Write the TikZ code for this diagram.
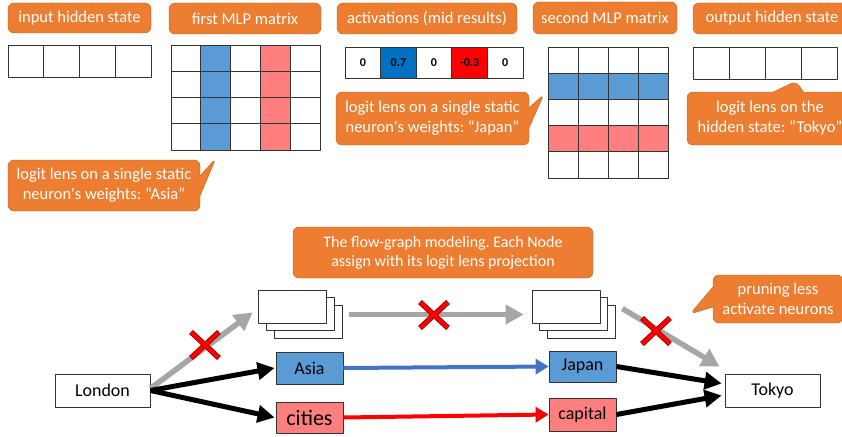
\documentclass[tikz,border=0pt]{standalone}
\usepackage{fontspec}
\setmainfont{Carlito}
\usetikzlibrary{arrows.meta,shapes.callouts,calc}
\frenchspacing

\definecolor{notebg}{HTML}{ED7D31}
\definecolor{noteline}{HTML}{B65F22}
\definecolor{lensblue}{HTML}{5B9BD5}
\definecolor{lensred}{HTML}{FF7F7F}
\definecolor{actblue}{HTML}{0070C0}
\definecolor{actred}{HTML}{FF0000}
\definecolor{flowblue}{HTML}{4472C4}
\definecolor{prunegray}{HTML}{A6A6A6}

\begin{document}
\begin{tikzpicture}[x=1pt,y=-1pt,line join=round]
	\tikzset{
		title box/.style={draw=noteline,fill=notebg,rounded corners=6pt,text=white,inner sep=0pt,
			font=\fontsize{16.5}{20}\selectfont,align=center},
		note box/.style={title box,rectangle callout,callout pointer width=20pt},
		cell/.style={draw=black!80,line width=0.8pt},
		graph node/.style={draw=black!80,line width=0.8pt,inner sep=0pt,font=\fontsize{18}{20}\selectfont},
		hid box/.style={draw=black!80,fill=white,line width=0.8pt,minimum width=68pt,minimum height=33pt,inner sep=0pt},
		main flow/.style={line width=5pt,-{Triangle[length=17pt,width=17pt]}},
		pruned flow/.style={line width=5.5pt,draw=prunegray,-{Triangle[length=18pt,width=19pt]}},
		lens flow/.style={line width=4pt,-{Triangle[length=13pt,width=15pt]}}
	}
	\useasboundingbox (0,0) rectangle (842,436);
	% headers
	\node[title box,minimum width=143pt,minimum height=30pt] (inTitle) at (79.5,18) {input hidden state};
	\node[title box,minimum width=152pt,minimum height=31pt] (mlpOneTitle) at (245,18.5) {first MLP matrix};
	\node[title box,minimum width=180pt,minimum height=31pt] (actTitle) at (427,18.5) {activations (mid results)};
	\node[title box,minimum width=144pt,minimum height=32pt] (mlpTwoTitle) at (605,18) {second MLP matrix};
	\node[title box,minimum width=158pt,minimum height=31pt] (outTitle) at (772,18.5) {output hidden state};
	% hidden states
	\foreach \i in {0,...,3}{
		\draw[cell] ({8+35.75*\i},45) rectangle +(35.75,32);
		\draw[cell] ({693+36*\i},47) rectangle +(36,32);
	}
	% first MLP matrix
	\fill[lensblue] (200.8,45) rectangle (230.6,150);
	\fill[lensred] (260.4,45) rectangle (290.2,150);
	\foreach \i in {0,...,4}
	\foreach \j in {0,...,3}
	\draw[cell] ({171+29.8*\i},{45+26.25*\j}) rectangle +(29.8,26.25);
	% second MLP matrix
	\fill[lensblue] (548,73.2) rectangle (668,99.4);
	\fill[lensred] (548,125.6) rectangle (668,151.8);
	\foreach \i in {0,...,3}
	\foreach \j in {0,...,4}
	\draw[cell] ({548+30*\i},{47+26.2*\j}) rectangle +(30,26.2);
	% activations
	\foreach \v/\c [count=\i] in {0/white,0.7/actblue,0/white,-0.3/actred,0/white}
	\node[cell,fill=\c,minimum width=35.6pt,minimum height=31pt,inner sep=0pt,
		font=\fontsize{12}{14}\selectfont\bfseries] (act\i) at ({345+35.6*(\i-0.5)},62.5) {\v};
	% callouts
	\node[note box,minimum width=192pt,minimum height=51pt,callout absolute pointer={(216,158)}]
		(noteAsia) at (104,185.5) {logit lens on a single static\\neuron\textquotesingle s weights: “Asia”};
	\node[note box,minimum width=193pt,minimum height=53pt,callout absolute pointer={(544,94)}]
		(noteJapan) at (432.5,118.5) {logit lens on a single static\\neuron\textquotesingle s weights: “Japan”};
	\node[note box,minimum width=166pt,minimum height=53pt,callout pointer width=30pt,
		callout absolute pointer={(796,81)}] (noteTokyo) at (770,118.5) {logit lens on the\\hidden state: “Tokyo”};
	\node[note box,minimum width=300pt,minimum height=51pt,font=\fontsize{16}{19}\selectfont,rectangle]
		(noteFlow) at (443,252.5) {The flow-graph modeling. Each Node\\assign with its logit lens projection};
	\node[note box,minimum width=130pt,minimum height=48pt,font=\fontsize{16.5}{20}\selectfont,
		callout absolute pointer={(690,314)}] (notePrune) at (778,299) {pruning less\\activate neurons};
	% flow graph
	\node[graph node,minimum width=95pt,minimum height=33pt] (London) at (102.5,390.5) {London};
	\node[graph node,fill=lensblue,minimum width=67pt,minimum height=32pt] (Asia) at (309.5,368) {Asia};
	\node[graph node,fill=lensred,minimum width=67pt,minimum height=31pt,font=\fontsize{22}{24}\selectfont] (cities) at (309.5,417.5) {cities};
	\node[graph node,fill=lensblue,minimum width=67pt,minimum height=31pt] (Japan) at (582.5,366.5) {Japan};
	\node[graph node,fill=lensred,minimum width=67pt,minimum height=33pt] (capital) at (582.5,414.5) {capital};
	\node[graph node,minimum width=95pt,minimum height=33pt] (Tokyo) at (772.5,390.5) {Tokyo};
	\foreach \k in {2,1,0}{
		\node[hid box] (hidL\k) at ({292+8*\k},{306.5+7.5*\k}) {};
		\node[hid box] (hidR\k) at ({566+7.5*\k},{306.5+7.5*\k}) {};
	}
	\draw[pruned flow] ($(London.east)+(0,-2)$) -- ($(hidL0.south west)+(-5,-11)$);
	\draw[pruned flow] ($(hidL0.east)+(23,8)$) -- ($(hidR0.west)+(-8,8)$);
	\draw[pruned flow] ($(hidR2.north east)+(7,4)$) -- ($(Tokyo.north west)+(-5,-7)$);
	\draw[main flow] (London.east) -- ($(Asia.west)+(-1,0)$);
	\draw[main flow] (London.east) -- ($(cities.west)+(-1,0)$);
	\draw[main flow] (Japan.east) -- ($(Tokyo.west)+(-3,-7)$);
	\draw[main flow] (capital.east) -- ($(Tokyo.west)+(-3,5)$);
	\draw[lens flow,draw=flowblue] (Asia.east) -- (Japan.west);
	\draw[lens flow,draw=actred] (cities.east) -- (capital.west);
	% pruned marks
	\foreach \x/\y in {205/345,434/315,656/331}{
		\draw[line width=5.5pt,draw=red!60!black] (\x-14,\y-13) -- (\x+14,\y+13) (\x-14,\y+13) -- (\x+14,\y-13);
		\draw[line width=3.8pt,draw=actred] (\x-13.5,\y-12.5) -- (\x+13.5,\y+12.5) (\x-13.5,\y+12.5) -- (\x+13.5,\y-12.5);
	}
\end{tikzpicture}
\end{document}
